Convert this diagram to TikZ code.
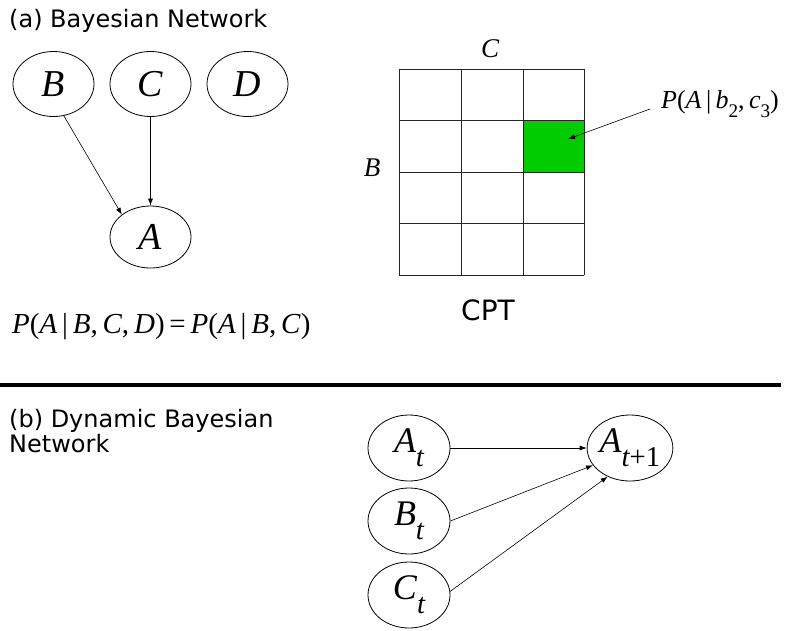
\documentclass[tikz,border=0pt]{standalone}
\usepackage{graphicx}
\usepackage{fontspec}
\newfontfamily\tms{Liberation Serif}
\newfontfamily\dvs{DejaVu Sans}
\usetikzlibrary{arrows.meta,shapes.geometric}
\definecolor{cellgreen}{RGB}{0,204,0}
\newcommand{\vsub}[1]{\raisebox{-0.33em}{\scalebox{0.74}{#1}}}
\newcommand{\bsub}[1]{\raisebox{-0.4em}{\scalebox{0.8}{#1}}}
\newcommand{\vi}[1]{\textit{#1}}
\begin{document}
\begin{tikzpicture}[x=1pt,y=-1pt]
\useasboundingbox (0,0) rectangle (795,630);
\tikzset{
 ell/.style={draw, ellipse, line width=0.8pt, minimum width=81pt, minimum height=65pt, inner sep=0pt, font=\tms\itshape\fontsize{38}{40}\selectfont},
 ellb/.style={ell, minimum width=82pt, minimum height=66pt, font=\tms\itshape\fontsize{36}{38}\selectfont},
 arr/.style={-{Latex[length=7pt,width=5pt]}, line width=0.6pt},
 ttl/.style={inner sep=0pt, font=\dvs\fontsize{24}{25}\selectfont, align=left},
 mth/.style={inner sep=0pt, font=\tms\fontsize{27}{30}\selectfont},
 gridline/.style={line width=0.8pt, draw=black!85}
}
% (a)
\node[ttl, anchor=west] (ta) at (9,21) {(a) Bayesian Network};
\node[ell] (B) at (53.5,84) {B};
\node[ell] (C) at (150.5,84) {C};
\node[ell] (D) at (247.5,84) {D};
\node[ell, minimum height=62pt] (A) at (150.5,237) {A};
\draw[arr] (B.-72) -- (A.142);
\draw[arr] (C) -- (A);
\node[mth, anchor=west, font=\tms\fontsize{29}{30}\selectfont] (eq) at (12,327)
 {\vi{P}(\vi{A}\,|\,\vi{B},\,\vi{C},\,\vi{D})\,=\,\vi{P}(\vi{A}\,|\,\vi{B},\,\vi{C})};
% CPT
\node[fill=cellgreen, inner sep=0pt, minimum width=61.7pt, minimum height=51.5pt] (g) at (553.5,146) {};
\foreach \x in {399,461,523,584} \draw[gridline] (\x,69) -- (\x,275);
\foreach \y in {69,120,172,223,275} \draw[gridline] (399,\y) -- (584,\y);
\node[mth, font=\tms\itshape\fontsize{27}{30}\selectfont] (lc) at (490,49) {C};
\node[mth, font=\tms\itshape\fontsize{27}{30}\selectfont] (lb) at (372,168) {B};
\node[inner sep=0pt, font=\dvs\fontsize{28}{30}\selectfont] (cpt) at (488,310) {CPT};
\node[mth, anchor=west, font=\tms\fontsize{26}{30}\selectfont] (pl) at (661,104) {\vi{P}(\vi{A}\,|\,\vi{b}\vsub{2},\,\vi{c}\vsub{3})};
\coordinate (gp) at (568,139);
\draw[arr] ([xshift=-11pt,yshift=-5pt]pl.west) -- (gp);
% rule
\draw[line width=4pt] (0,385) -- (781,385);
% (b)
\node[ttl, anchor=north west] (tb) at (9,409) {(b) Dynamic Bayesian\\Network};
\node[ellb] (At) at (409,448) {A\bsub{t}};
\node[ellb] (Bt) at (409,521) {B\bsub{t}};
\node[ellb] (Ct) at (409,595) {C\bsub{t}};
\node[ellb] (At1) at (630,448) {A\bsub{t\upshape+1}};
\draw[arr] (At) -- (At1);
\draw[arr] (Bt.east) -- (At1.-155);
\draw[arr] (Ct.5) -- (At1.-128);
\end{tikzpicture}
\end{document}
